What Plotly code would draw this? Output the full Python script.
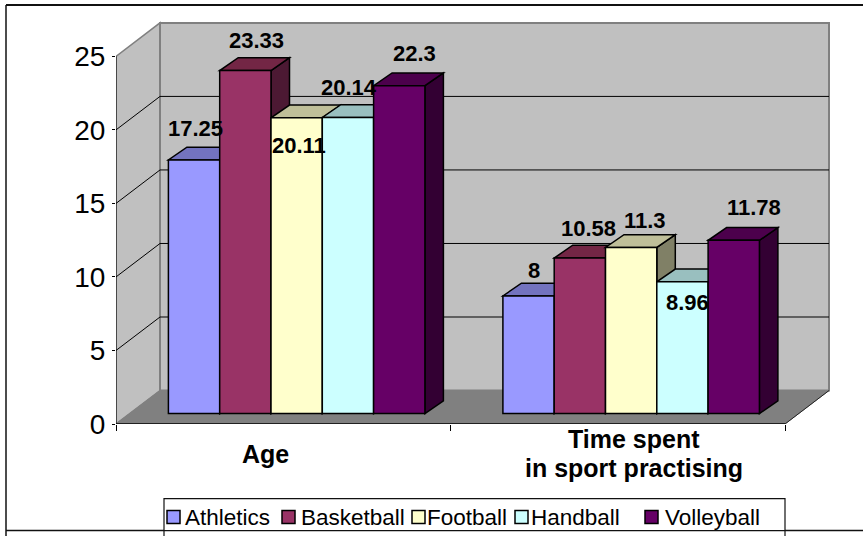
import plotly.graph_objects as go

# --- data ---
series_names = ["Athletics", "Basketball", "Football", "Handball", "Volleyball"]
categories = ["Age", "Time spent<br>in sport practising"]
age_values = [17.25, 23.33, 20.11, 20.14, 22.3]
time_values = [8, 10.58, 11.3, 8.96, 11.78]
y_ticks = [0, 5, 10, 15, 20, 25]

front_colors = ["#9999FF", "#993366", "#FFFFCC", "#CCFFFF", "#660066"]
top_colors = ["#7373BF", "#732645", "#BFBF99", "#99BFBF", "#4C004C"]
side_colors = ["#4C4C80", "#4C1933", "#808066", "#668080", "#330033"]

# hand-placed data labels in the original, px relative to the bar's top centre
age_label_shift = [(1, 31), (11, 29.6), (2.5, -28), (1, 29.5), (15, 31.7)]
time_label_shift = [(5, 25.5), (9, 30), (14, 26.7), (4.7, -20.6), (20, 33)]
category_shift = [-18, 16]

# legend swatch left edge and text left edge, px
legend_swatch_x = [167, 282, 412, 515, 645]
legend_text_x = [183, 298.5, 425, 528.5, 663]

# --- page geometry (px) ---
W, H = 863, 536
PLOT_L, PLOT_R, PLOT_T, PLOT_B = 116, 835, 5, 424.4
PX_PER_CAT = 334.5
PX_PER_UNIT = 14.72
FONT = "Liberation Sans"

x_min = -0.5
x_max = x_min + (PLOT_R - PLOT_L) / PX_PER_CAT
x_floor_end = 1.5
y_max = (PLOT_B - PLOT_T) / PX_PER_UNIT

# oblique depth of the 3D box, in axis units
wall_dx = 44 / PX_PER_CAT
wall_dy = 33.5 / PX_PER_UNIT
bar_front_dx = 13.4 / PX_PER_CAT
bar_front_dy = 10.4 / PX_PER_UNIT
bar_dx = 18.5 / PX_PER_CAT
bar_dy = 12.8 / PX_PER_UNIT
bar_w = 51.3 / PX_PER_CAT


def poly(points, fill, line_color=None, line_width=0, layer="below"):
    path = "M" + "L".join(f"{x},{y}" for x, y in points) + "Z"
    return dict(type="path", path=path, xref="x", yref="y", fillcolor=fill, layer=layer,
                line=dict(color=line_color or fill, width=line_width))


def seg(x0, y0, x1, y1, color="black", width=1):
    return dict(type="line", x0=x0, y0=y0, x1=x1, y1=y1, xref="x", yref="y", layer="below",
                line=dict(color=color, width=width))


def page_x(px):
    return (px - PLOT_L) / (PLOT_R - PLOT_L)


def page_y(py):
    return (PLOT_B - py) / (PLOT_B - PLOT_T)


def page_line(x0, y0, x1, y1, width=1.5, color="#111111"):
    return dict(type="line", xref="paper", yref="paper", x0=page_x(x0), y0=page_y(y0),
                x1=page_x(x1), y1=page_y(y1), line=dict(color=color, width=width), layer="above")


shapes = []

# left wall, back wall, floor
shapes.append(poly([(x_min, 0), (x_min + wall_dx, wall_dy), (x_min + wall_dx, 25 + wall_dy), (x_min, 25)],
                   "#C0C0C0", "#808080", 1.5))
shapes.append(poly([(x_min + wall_dx, wall_dy), (x_floor_end + wall_dx, wall_dy),
                    (x_floor_end + wall_dx, 25 + wall_dy), (x_min + wall_dx, 25 + wall_dy)],
                   "#C0C0C0", "#808080", 2))

# gridlines round the walls
for t in y_ticks[1:-1]:
    shapes.append(seg(x_min, t, x_min + wall_dx, t + wall_dy))
    shapes.append(seg(x_min + wall_dx, t + wall_dy, x_floor_end + wall_dx, t + wall_dy))

shapes.append(poly([(x_min, 0), (x_floor_end, 0), (x_floor_end + wall_dx, wall_dy), (x_min + wall_dx, wall_dy)],
                   "#808080", "#808080", 1))
shapes.append(seg(x_floor_end, 0, x_floor_end + wall_dx, wall_dy, "#222222", 1))
shapes.append(seg(x_min, 0, x_floor_end, 0, "black", 1.5))
shapes.append(seg(x_min, 0, x_min, 25, "black", 1))

fig = go.Figure()

groups = [age_values, time_values]
shifts = [age_label_shift, time_label_shift]
annotations = []

# side and top faces go in shapes under the traces, fronts are real bars on top
for s, name in enumerate(series_names):
    xs = []
    ys = []
    for g, values in enumerate(groups):
        v = values[s]
        xc = g + bar_front_dx + (s - 2) * bar_w
        x0 = xc - bar_w / 2
        x1 = xc + bar_w / 2
        base = bar_front_dy
        top = base + v
        shapes.append(poly([(x1, base), (x1 + bar_dx, base + bar_dy), (x1 + bar_dx, top + bar_dy), (x1, top)],
                           side_colors[s], "black", 1.5))
        shapes.append(poly([(x0, top), (x1, top), (x1 + bar_dx, top + bar_dy), (x0 + bar_dx, top + bar_dy)],
                           top_colors[s], "black", 1.5))
        xs.append(xc)
        ys.append(v)
        annotations.append(dict(x=xc, y=top, xref="x", yref="y", text=str(v), showarrow=False,
                                xshift=shifts[g][s][0], yshift=shifts[g][s][1],
                                xanchor="center", yanchor="middle",
                                font=dict(family=FONT, size=22, color="black", weight="bold")))
    fig.add_trace(go.Bar(x=xs, y=ys, base=bar_front_dy, width=bar_w, name=name, showlegend=False,
                         marker=dict(color=front_colors[s], line=dict(color="black", width=1.5))))

# category labels, moved off the tick centre as in the original
for i, cat in enumerate(categories):
    lines = cat.split("<br>")
    for n, text in enumerate(lines):
        py = 454 if len(lines) == 1 else 439.5 + n * 28.5
        annotations.append(dict(x=i, y=page_y(py), xref="x", yref="paper", text=text, showarrow=False,
                                xshift=category_shift[i], xanchor="center", yanchor="middle",
                                font=dict(family=FONT, size=25, color="black", weight="bold")))

# outer frame of the pasted chart
shapes.append(page_line(6, 5, W + 5, 5, 2))
shapes.append(page_line(6, 5, 6, H + 5, 1.5))
shapes.append(page_line(6, 531, W + 5, 531, 1.5))

# legend box
shapes.append(dict(type="rect", xref="paper", yref="paper", x0=page_x(164), y0=page_y(531),
                   x1=page_x(785), y1=page_y(499), fillcolor="white", layer="above",
                   line=dict(color="#111111", width=1.2)))
shapes.append(page_line(164, 531, 164, H + 5, 1.2))
shapes.append(page_line(785, 531, 785, H + 5, 1.2))

for s, name in enumerate(series_names):
    shapes.append(dict(type="rect", xref="paper", yref="paper", x0=page_x(legend_swatch_x[s]), y0=page_y(524),
                       x1=page_x(legend_swatch_x[s] + 13), y1=page_y(511), fillcolor=front_colors[s],
                       layer="above", line=dict(color="black", width=1.5)))
    annotations.append(dict(x=page_x(legend_text_x[s]), y=page_y(518), xref="paper", yref="paper",
                            text=name, showarrow=False, xanchor="left", yanchor="middle",
                            font=dict(family=FONT, size=22.5, color="black")))

fig.update_layout(
    width=W, height=H,
    margin=dict(l=PLOT_L, r=W - PLOT_R, t=PLOT_T, b=H - PLOT_B, pad=0),
    paper_bgcolor="white", plot_bgcolor="white",
    barmode="overlay", showlegend=False,
    font=dict(family=FONT, color="black"),
    xaxis=dict(range=[x_min, x_max], tickmode="array", tickvals=[-0.5, 0.5, 1.5], ticktext=["", "", ""],
               ticks="outside", ticklen=6, tickcolor="black", tickwidth=1, showgrid=False, zeroline=False,
               showline=False, fixedrange=True),
    yaxis=dict(range=[0, y_max], tickmode="array", tickvals=y_ticks, ticks="outside", ticklen=3,
               tickcolor="black", tickwidth=1, showgrid=False, zeroline=False, showline=False,
               tickfont=dict(family=FONT, size=28, color="black"), ticklabelstandoff=1, fixedrange=True),
    shapes=shapes,
    annotations=annotations,
)

# the page's default body margin would push the figure 8px right and down
fig.write_html("out.html", config=dict(displayModeBar=False),
               post_script="document.body.style.margin='0';")
